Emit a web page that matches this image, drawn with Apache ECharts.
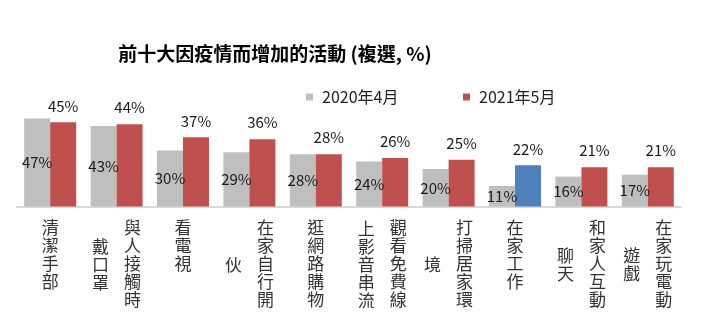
<!DOCTYPE html>
<html>
<head>
<meta charset="utf-8">
<script src="https://cdn.jsdelivr.net/npm/echarts@6/dist/echarts.min.js"></script>
<style>
  html, body { margin: 0; padding: 0; background: #fff; }
  #chart { width: 712px; height: 334px; }
</style>
</head>
<body>
<div id="chart"></div>
<script>
// Activities that increased because of the pandemic (multiple choice, %)
const categories = ['清潔手部', '與人接觸時戴口罩', '看電視', '在家自行開伙', '逛網路購物',
  '觀看免費線上影音串流', '打掃居家環境', '在家工作', '和家人互動聊天', '在家玩電動遊戲'];
const seriesNames = ['2020年4月', '2021年5月'];
const values2020 = [47, 43, 30, 29, 28, 24, 20, 11, 16, 17];
const values2021 = [45, 44, 37, 36, 28, 26, 25, 22, 21, 21];
const highlightIndex = 7; // 在家工作

const GRAY = '#bfbfbf';
const RED = '#c0504d';
const BLUE = '#4f81bd';
const FONT = '"Noto Sans CJK TC", "Noto Sans", sans-serif';
const COL_LEN = 5; // characters per vertical column

// Vertical text: first column on the right, the overflow column on the left
const vertical = s => s.split('').join('\n');
const colStyle = pad => ({ fontSize: 17, lineHeight: 18, color: '#333', fontFamily: FONT, padding: pad });
const legendItem = (name, left) => ({
  data: [name], left, top: 89, padding: 0, icon: 'rect', itemWidth: 7, itemHeight: 7,
  textStyle: { fontSize: 16, color: '#222', fontFamily: FONT, padding: [0, 0, 0, 4] }
});

const chart = echarts.init(document.getElementById('chart'));
chart.setOption({
  animation: false,
  title: {
    text: '前十大因疫情而增加的活動 (複選, %)',
    left: 270, top: 39, textAlign: 'center',
    textStyle: { fontSize: 19, fontWeight: 'bold', color: '#000', fontFamily: FONT }
  },
  legend: [legendItem(seriesNames[0], 306), legendItem(seriesNames[1], 463)],
  grid: { left: 17, right: 31, top: 113, bottom: 127.5 },
  xAxis: [
    {
      type: 'category', data: categories,
      axisLine: { lineStyle: { color: '#d9d9d9', width: 2 } },
      axisTick: { show: false },
      axisLabel: {
        interval: 0, margin: 12,
        formatter: v => {
          const first = vertical(v.slice(0, COL_LEN));
          return v.length > COL_LEN ? `{r|${first}}` : `{c|${first}}`;
        },
        rich: { r: colStyle([0, 0, 0, 32]), c: colStyle(0) }
      }
    },
    {
      type: 'category', data: categories, position: 'bottom',
      axisLine: { show: false }, axisTick: { show: false }, splitLine: { show: false },
      axisLabel: {
        interval: 0, margin: 58, verticalAlign: 'middle',
        formatter: v => v.length > COL_LEN ? `{l|${vertical(v.slice(COL_LEN))}}` : '',
        rich: { l: colStyle([0, 32, 0, 0]) }
      }
    }
  ],
  yAxis: { type: 'value', min: 0, max: 50, show: false, splitLine: { show: false } },
  series: [
    {
      name: seriesNames[0], type: 'bar', data: values2020, barWidth: 26, barGap: '0%',
      itemStyle: { color: GRAY },
      label: { show: true, position: 'inside', formatter: '{c}%', fontSize: 15, color: '#1a1a1a', fontFamily: FONT }
    },
    {
      name: seriesNames[1], type: 'bar', barWidth: 26, barGap: '0%',
      data: values2021.map((v, i) => i === highlightIndex ? { value: v, itemStyle: { color: BLUE } } : v),
      itemStyle: { color: RED },
      label: { show: true, position: 'top', distance: 9, formatter: '{c}%', fontSize: 15, color: '#1a1a1a', fontFamily: FONT }
    }
  ]
});
</script>
</body>
</html>
